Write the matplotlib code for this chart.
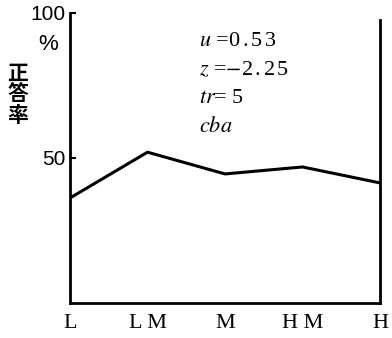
"""
Line chart of correct-answer rate by level
"""
import matplotlib.pyplot as plt

levels = ["L", "L M", "M", "H M", "H"]
rate = [36.2, 52.0, 44.5, 46.9, 41.4]
y_ticks = [50, 100]
params = [r"$u$ =0$\,$.$\,$5$\,$3", r"$z$ =$-$2$\,$.$\,$2$\,$5", r"$tr$= 5", r"$cba$"]

plt.rcParams['font.family'] = ['Noto Sans CJK JP', 'DejaVu Sans']
plt.rcParams['mathtext.fontset'] = 'stix'

fig = plt.figure(figsize=(3.92, 3.38), dpi=100)
ax = fig.add_axes([0.1786, 0.1036, 0.7908, 0.858])

x = list(range(len(levels)))
ax.plot(x, rate, color="black", lw=2.2)

ax.set_xlim(0, len(levels) - 1)
ax.set_ylim(0, 100)
ax.spines["top"].set_visible(False)
for s in ["left", "bottom", "right"]:
    ax.spines[s].set_linewidth(2)
ax.spines["right"].set_bounds(0, 97.5)

ax.set_xticks(x)
ax.set_xticklabels(levels, family="Liberation Serif", fontsize=16)
ax.tick_params(axis="x", length=0, pad=8)
ax.set_yticks(y_ticks)
ax.set_yticklabels([str(t) for t in y_ticks], family="Liberation Sans", fontsize=15)
ax.tick_params(axis="y", direction="in", length=4, width=1.5, pad=3)

# y label pieces
fig.text(48 / 392, 1 - 45 / 338, "%", ha="center", va="center", fontsize=16,
         family="Liberation Sans")
fig.text(18 / 392, 1 - 94 / 338, "正\n答\n率", ha="center", va="center",
         fontsize=15, linespacing=1.0, fontweight="bold")

for i, t in enumerate(params):
    ax.text(0.415, 0.9 - i * 0.098, t, transform=ax.transAxes, fontsize=16,
            family="Liberation Serif", va="center", ha="left")

fig.savefig("out.png", dpi=100)
